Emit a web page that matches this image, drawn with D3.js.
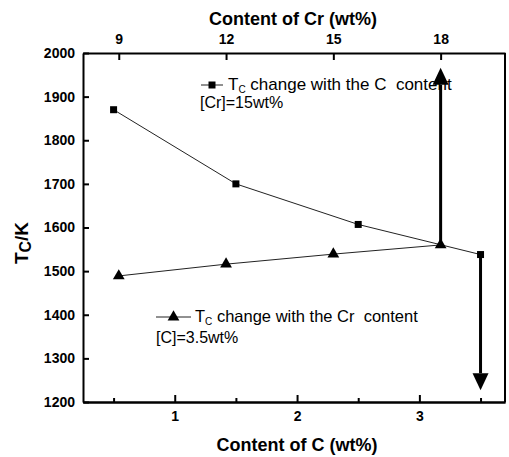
<!DOCTYPE html>
<html>
<head>
<meta charset="utf-8">
<script src="https://cdn.jsdelivr.net/npm/d3@7"></script>
<style>
  body { margin: 0; background: #fff; }
  svg text { font-family: "Liberation Sans", Arial, sans-serif; white-space: pre; }
</style>
</head>
<body>
<div id="container"></div>
<script>
/* CONSTANTS AND GLOBALS */
const width = 509;
const height = 457;
const margin = { top: 53, right: 4, bottom: 55, left: 83 };

/* DATA */
// Tc vs C content (bottom axis), [Cr]=15wt%
const cContent = [0.5, 1.5, 2.5, 3.5];
const tcByC = [1870, 1700, 1607, 1538];
// Tc vs Cr content (top axis), [C]=3.5wt%
const crContent = [9, 12, 15, 18];
const tcByCr = [1489, 1516, 1539, 1560];

const yTicks = [1200, 1300, 1400, 1500, 1600, 1700, 1800, 1900, 2000];
const cTicks = [1, 2, 3];
const cMinorTicks = [0.5, 1.5, 2.5, 3.5];
const crTicks = [9, 12, 15, 18];

// arrows from the last point of each series
const arrowUp = { cr: 18, from: 1560, to: 1966 };
const arrowDown = { c: 3.5, from: 1538, to: 1227 };

/* SCALES */
const xC = d3.scaleLinear()
  .domain([0.25, 3.7])
  .range([margin.left, width - margin.right]);

const xCr = d3.scaleLinear()
  .domain([8, 19.8])
  .range([margin.left, width - margin.right]);

const y = d3.scaleLinear()
  .domain([1200, 2000])
  .range([height - margin.bottom, margin.top]);

/* HTML ELEMENTS */
const svg = d3.select("#container")
  .append("svg")
  .attr("width", width)
  .attr("height", height);

// axes
const styleAxis = g => {
  g.attr("font-family", null).attr("font-size", null);
  g.select(".domain").attr("stroke", "#000").attr("stroke-width", 2);
  g.selectAll(".tick line").attr("stroke", "#000").attr("stroke-width", 2);
  g.selectAll(".tick text")
    .attr("fill", "#000")
    .style("font-size", "14px")
    .style("font-weight", "bold");
};

svg.append("g")
  .attr("transform", `translate(${margin.left},0)`)
  .call(d3.axisLeft(y).tickValues(yTicks).tickFormat(d3.format("d"))
    .tickSize(-6).tickSizeOuter(0).tickPadding(8))
  .call(styleAxis);

svg.append("g")
  .attr("transform", `translate(0,${height - margin.bottom})`)
  .call(d3.axisBottom(xC).tickValues(cMinorTicks).tickSize(-4).tickSizeOuter(0).tickFormat(""))
  .call(styleAxis);

svg.append("g")
  .attr("transform", `translate(0,${height - margin.bottom})`)
  .call(d3.axisBottom(xC).tickValues(cTicks).tickFormat(d3.format("d"))
    .tickSize(-7).tickSizeOuter(0).tickPadding(9))
  .call(styleAxis);

svg.append("g")
  .attr("transform", `translate(0,${margin.top})`)
  .call(d3.axisTop(xCr).tickValues(crTicks).tickFormat(d3.format("d"))
    .tickSize(-7).tickSizeOuter(0).tickPadding(9))
  .call(styleAxis);

// right frame line
svg.append("line")
  .attr("x1", xC.range()[1]).attr("x2", xC.range()[1])
  .attr("y1", y.range()[0]).attr("y2", y.range()[1])
  .attr("stroke", "#000").attr("stroke-width", 2);

// axis titles
svg.append("text")
  .attr("x", 293).attr("y", 25)
  .attr("text-anchor", "middle")
  .style("font-size", "18px").style("font-weight", "bold")
  .text("Content of Cr (wt%)");

svg.append("text")
  .attr("x", 297).attr("y", 451)
  .attr("text-anchor", "middle")
  .style("font-size", "18px").style("font-weight", "bold")
  .text("Content of C (wt%)");

const yTitle = svg.append("text")
  .attr("transform", "translate(28,243) rotate(-90)")
  .attr("text-anchor", "middle")
  .style("font-size", "19px").style("font-weight", "bold");
yTitle.append("tspan").text("T");
yTitle.append("tspan").attr("dy", 3).style("font-size", "16px").text("C");
yTitle.append("tspan").attr("dy", -3).text("/K");

// series lines
const cData = cContent.map((c, i) => ({ x: c, y: tcByC[i] }));
const crData = crContent.map((c, i) => ({ x: c, y: tcByCr[i] }));

svg.append("path")
  .datum(cData)
  .attr("fill", "none").attr("stroke", "#222").attr("stroke-width", 1)
  .attr("d", d3.line().x(d => xC(d.x)).y(d => y(d.y)));

svg.append("path")
  .datum(crData)
  .attr("fill", "none").attr("stroke", "#222").attr("stroke-width", 1)
  .attr("d", d3.line().x(d => xCr(d.x)).y(d => y(d.y)));

// arrows
const drawArrow = (x, from, to) => {
  const dir = Math.sign(y(to) - y(from));
  const tip = y(to);
  const base = tip - dir * 17;
  svg.append("line")
    .attr("x1", x).attr("x2", x)
    .attr("y1", y(from)).attr("y2", base)
    .attr("stroke", "#000").attr("stroke-width", 3);
  svg.append("path")
    .attr("d", `M${x},${tip}L${x - 8},${base}L${x + 8},${base}Z`)
    .attr("fill", "#000");
};

// markers
const square = d3.symbol().type(d3.symbolSquare).size(49);
const triangle = d3.symbol().type(d3.symbolTriangle).size(60);

// legends (drawn before arrows so the up arrow crosses the text)
const legend = (x0, x1, ly, sym, tx, fs, label, note, noteX, noteY) => {
  svg.append("line")
    .attr("x1", x0).attr("x2", x1).attr("y1", ly).attr("y2", ly)
    .attr("stroke", "#222").attr("stroke-width", 1);
  svg.append("path")
    .attr("transform", `translate(${(x0 + x1) / 2},${ly})`)
    .attr("d", sym).attr("fill", "#000");
  const t = svg.append("text")
    .attr("x", tx).attr("y", ly + 5)
    .style("font-size", fs + "px");
  t.append("tspan").text("T");
  t.append("tspan").attr("dy", 3).style("font-size", "10px").text("C");
  t.append("tspan").attr("dy", -3).text(label);
  svg.append("text")
    .attr("x", noteX).attr("y", noteY)
    .style("font-size", "16px")
    .text(note);
};

legend(201, 223, 85, square, 228, 17, " change with the C  content", "[Cr]=15wt%", 200, 108);
legend(156, 191, 317, triangle, 195, 16.5, " change with the Cr  content", "[C]=3.5wt%", 156, 343);

drawArrow(xCr(arrowUp.cr), arrowUp.from, arrowUp.to);
drawArrow(xC(arrowDown.c), arrowDown.from, arrowDown.to);

svg.selectAll(".sq")
  .data(cData)
  .join("path")
  .attr("class", "sq")
  .attr("transform", d => `translate(${xC(d.x)},${y(d.y)})`)
  .attr("d", square)
  .attr("fill", "#000");

svg.selectAll(".tri")
  .data(crData)
  .join("path")
  .attr("class", "tri")
  .attr("transform", d => `translate(${xCr(d.x)},${y(d.y)})`)
  .attr("d", triangle)
  .attr("fill", "#000");
</script>
</body>
</html>
